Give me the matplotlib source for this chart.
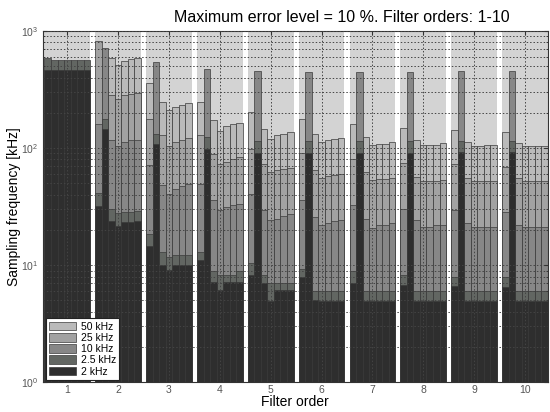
import numpy as np
import matplotlib
matplotlib.use("Agg")
import matplotlib.pyplot as plt
from matplotlib.patches import Patch
from matplotlib.ticker import LogLocator, NullFormatter

plt.rcParams["font.family"] = ["Liberation Sans", "DejaVu Sans"]

nan = np.nan

# Filter orders (one group of 7 bars each)
orders = [1, 2, 3, 4, 5, 6, 7, 8, 9, 10]

# Sampling frequency [kHz] needed for each signal frequency, 7 bars per order
fs_2k = [
    [460, 460, 460, 460, 460, 460, 460],
    [32, 146, 24, 21.5, 23.3, 23.5, 23.9],
    [14.7, 109, 10.1, 9.1, 10.1, 10.1, 10.1],
    [11, 98.7, 7.2, 6.1, 7.2, 7.2, 7.2],
    [8.3, 91, 7.0, 4.9, 6.1, 6.1, 6.1],
    [7.9, 90.6, 5.0, 4.9, 4.9, 4.9, 4.9],
    [7.0, 91, 4.9, 4.9, 4.9, 4.9, 4.9],
    [6.8, 91, 4.9, 4.9, 4.9, 4.9, 4.9],
    [6.6, 92, 4.9, 4.9, 4.9, 4.9, 4.9],
    [6.5, 92, 4.9, 4.9, 4.9, 4.9, 4.9],
]
fs_2k5 = [
    [585, 560, 560, 560, 560, 560, 560],
    [41, 178, 30, 28, 28.4, 28.7, 29.2],
    [18.3, 132, 12.9, 11.7, 12.1, 12.1, 12.1],
    [12.9, 124, 9.0, 8.2, 8.2, 8.2, 9.0],
    [10.4, 115, 8.2, 7.0, 7.0, 7.0, 7.0],
    [9.3, 115, 6.0, 6.0, 6.0, 6.0, 6.0],
    [8.9, 115, 6.0, 6.0, 6.0, 6.0, 6.0],
    [8.3, 115, 6.0, 6.0, 6.0, 6.0, 6.0],
    [8.0, 115, 6.0, 6.0, 6.0, 6.0, 6.0],
    [7.9, 115, 6.0, 6.0, 6.0, 6.0, 6.0],
]
fs_10k = [
    [nan, nan, nan, nan, nan, nan, nan],
    [161, 720, 116, 105, 112, 116, 118],
    [71, 543, 48, 40.6, 44.9, 47, 49],
    [49.6, 476, 35.7, 29.7, 31.3, 32.4, 33.4],
    [40.6, 455, 29.7, 24.4, 24.9, 26.1, 27.1],
    [36.2, 446, 26, 22.2, 22.8, 23.8, 24.4],
    [32.4, 446, 24.9, 20.9, 22, 22, 22.8],
    [30.3, 446, 24.4, 21.2, 21.2, 22.2, 22.2],
    [29.3, 455, 22.8, 21.2, 21.2, 21.2, 21.2],
    [28.4, 455, 22.2, 21.2, 21.2, 21.2, 21.2],
]
fs_25k = [
    [nan, nan, nan, nan, nan, nan, nan],
    [820, nan, 282, 264, 282, 290, 297],
    [178, nan, 128, 105, 112, 118, 122],
    [128, nan, 89, 72.5, 75.9, 81, 83.7],
    [98.7, nan, 73.5, 62, 64.4, 66.5, 67.9],
    [90.6, nan, 65, 55.8, 57.2, 59.2, 60.3],
    [81, nan, 62.4, 53.6, 54, 54, 55.8],
    [74.5, nan, 57, 52.2, 52.7, 52.7, 53.6],
    [72.5, nan, 55.8, 52.2, 52.2, 52.2, 52.7],
    [68.8, nan, 55, 52.2, 52.2, 52.2, 52.2],
]
fs_50k = [
    [nan, nan, nan, nan, nan, nan, nan],
    [nan, nan, 585, 512, 557, 576, 584],
    [359, nan, 247, 210, 224, 234, 242],
    [247, nan, 172, 141, 153, 159, 164],
    [203, nan, 146, 120, 128, 132, 136],
    [178, nan, 131, 112, 116, 119, 122],
    [161, nan, 124, 107, 108, 108, 112],
    [149, nan, 118, 107, 107, 107, 110],
    [143, nan, 112, 105, 105, 106, 107],
    [137, nan, 110, 104, 104, 105, 105],
]

labels = ["50 kHz", "25 kHz", "10 kHz", "2.5 kHz", "2 kHz"]
colors = ["#bababa", "#a2a2a2", "#878787", "#626662", "#2e2e2e"]
series = [fs_50k, fs_25k, fs_10k, fs_2k5, fs_2k]

fig = plt.figure(figsize=(5.5, 4.12), dpi=100)
ax = fig.add_axes([0.078, 0.072, 0.918, 0.853])
ax.set_yscale("log")

group_w = 0.9
bw = group_w / 7
x = np.array([[g + (j - 3) * bw for j in range(7)] for g in orders]).ravel()

# light grey panel behind every group
ax.bar(orders, 1000 - 1, bottom=1, width=group_w, color="#d3d3d3", linewidth=0, zorder=1)

# biggest values first, smaller ones painted over them
for vals, c in zip(series, colors):
    v = np.array(vals, dtype=float).ravel()
    m = np.isfinite(v)
    ax.bar(x[m], v[m] - 1, bottom=1, width=bw, color=c,
           edgecolor="#3a3a3a", linewidth=0.5, zorder=2)

ax.set_xlim(0.52, 10.45)
ax.set_ylim(1, 1000)
ax.set_xticks(orders)
ax.yaxis.set_major_locator(LogLocator(base=10))
ax.yaxis.set_minor_locator(LogLocator(base=10, subs=np.arange(2, 10)))
ax.yaxis.set_minor_formatter(NullFormatter())

ax.grid(True, which="major", axis="both", linestyle=(0, (1.5, 2)), color="#444444", linewidth=0.7, zorder=3)
ax.grid(True, which="minor", axis="y", linestyle=(0, (1.5, 2)), color="#444444", linewidth=0.7, zorder=3)
ax.set_axisbelow(False)

ax.tick_params(axis="both", which="both", direction="in", top=True, right=True,
               labelsize=7.5, labelcolor="#555555", color="#333333")
ax.tick_params(axis="both", which="major", length=3)
ax.tick_params(axis="x", which="major", pad=2)
ax.tick_params(axis="y", which="minor", length=1.5)
for s in ax.spines.values():
    s.set_color("#333333")
    s.set_linewidth(0.8)

ax.set_xlabel("Filter order", fontsize=10, labelpad=0)
ax.set_ylabel("Sampling frequency [kHz]", fontsize=10, labelpad=0)
fig.text(0.622, 0.958, "Maximum error level = 10 %. Filter orders: 1-10",
         ha="center", va="center", fontsize=11.5)

handles = [Patch(facecolor=c, edgecolor="#3a3a3a", linewidth=0.5) for c in colors]
leg = ax.legend(handles, labels, loc="lower left", fontsize=7.5, frameon=True,
                fancybox=False, framealpha=1, edgecolor="#222222",
                borderaxespad=0.25, labelspacing=0.12, handlelength=2.6,
                handleheight=0.9, borderpad=0.3, handletextpad=0.5)
leg.get_frame().set_linewidth(0.8)
leg.set_zorder(5)

fig.savefig("out.png", dpi=100)
